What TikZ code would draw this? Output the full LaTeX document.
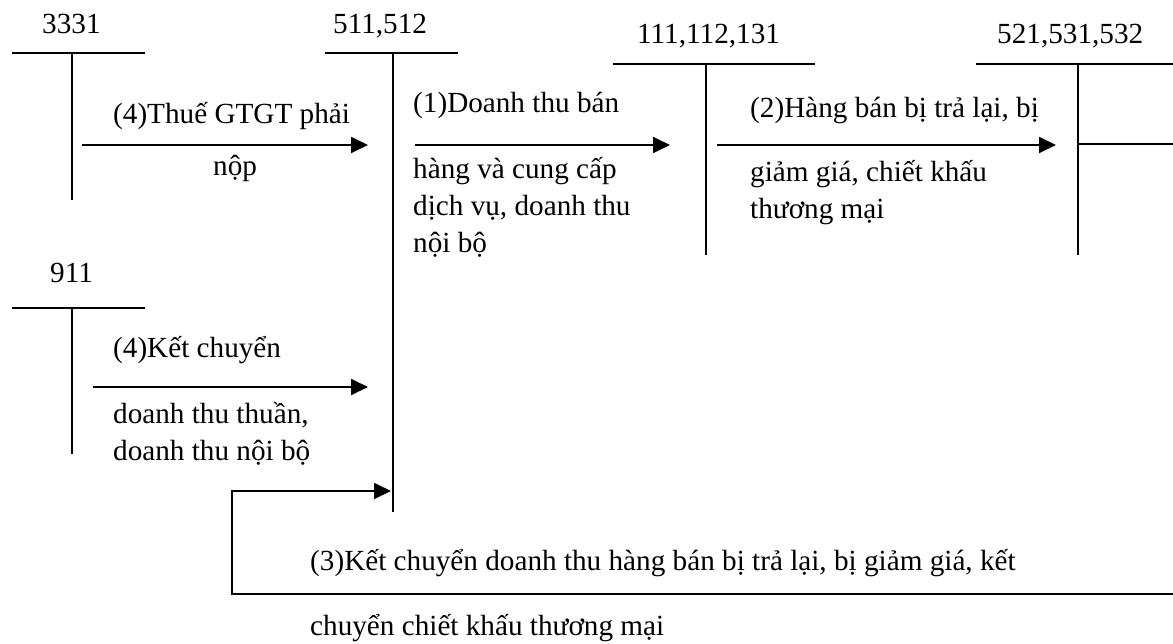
\documentclass[tikz,border=0pt]{standalone}
\usepackage{fontspec}
\setmainfont{Liberation Serif}
\usetikzlibrary{arrows.meta}
\begin{document}
\begin{tikzpicture}[x=1pt,y=-1pt,
  rule/.style={line width=1.6pt},
  flow/.style={line width=1.8pt,-{Triangle[length=17pt,width=16pt]}},
  txt/.style={anchor=base west,inner sep=0pt,font=\fontsize{29.2}{37}\selectfont}]
\useasboundingbox (0,0) rectangle (1173,643);

% account titles
\node[txt] (t3331) at (42,33) {3331};
\node[txt] (t511) at (333,33) {511,512};
\node[txt] (t111) at (637,43) {111,112,131};
\node[txt] (t521) at (997,43) {521,531,532};
\node[txt] (t911) at (50,282) {911};

% T-accounts
\coordinate (a3331L) at (12,53);   \coordinate (a3331R) at (145,53);
\coordinate (a3331T) at (72,53);   \coordinate (a3331B) at (72,200);
\coordinate (a511L) at (325,53);   \coordinate (a511R) at (458,53);
\coordinate (a511T) at (393,53);   \coordinate (a511B) at (393,512);
\coordinate (a111L) at (613,64);   \coordinate (a111R) at (815,64);
\coordinate (a111T) at (706,64);   \coordinate (a111B) at (706,255);
\coordinate (a521L) at (976,64);   \coordinate (a521R) at (1173,64);
\coordinate (a521T) at (1078,64);  \coordinate (a521B) at (1078,255);
\coordinate (a521M) at (1078,144); \coordinate (a521E) at (1173,144);
\coordinate (a911L) at (12,308);   \coordinate (a911R) at (145,308);
\coordinate (a911T) at (72,308);   \coordinate (a911B) at (72,454);

\draw[rule] (a3331L) -- (a3331R) (a3331T) -- (a3331B);
\draw[rule] (a511L) -- (a511R) (a511T) -- (a511B);
\draw[rule] (a111L) -- (a111R) (a111T) -- (a111B);
\draw[rule] (a521L) -- (a521R) (a521T) -- (a521B) (a521M) -- (a521E);
\draw[rule] (a911L) -- (a911R) (a911T) -- (a911B);

% flows
\coordinate (f4s) at (82,145);  \coordinate (f4e) at (368,145);
\coordinate (f1s) at (415,145); \coordinate (f1e) at (670,145);
\coordinate (f2s) at (717,145); \coordinate (f2e) at (1056,145);
\coordinate (f9s) at (93,387);  \coordinate (f9e) at (368,387);
\coordinate (f3s) at (1173,594); \coordinate (f3a) at (232,594);
\coordinate (f3b) at (232,491);  \coordinate (f3e) at (391,491);

\draw[flow] (f4s) -- (f4e);
\draw[flow] (f1s) -- (f1e);
\draw[flow] (f2s) -- (f2e);
\draw[flow] (f9s) -- (f9e);
\draw[flow] (f3s) -- (f3a) -- (f3b) -- (f3e);

% labels
\node[txt] (l4a) at (113,123) {(4)Thuế GTGT phải};
\node[txt] (l4b) at (213,175) {nộp};

\node[txt] (l1a) at (413,112) {(1)Doanh thu bán};
\node[txt] (l1b) at (413,178) {hàng và cung cấp};
\node[txt] (l1c) at (413,215) {dịch vụ, doanh thu};
\node[txt] (l1d) at (413,252) {nội bộ};

\node[txt] (l2a) at (750,117) {(2)Hàng bán bị trả lại, bị};
\node[txt] (l2b) at (750,181) {giảm giá, chiết khấu};
\node[txt] (l2c) at (750,218) {thương mại};

\node[txt] (l9a) at (113,357) {(4)Kết chuyển};
\node[txt] (l9b) at (113,423) {doanh thu thuần,};
\node[txt] (l9c) at (113,460) {doanh thu nội bộ};

\node[txt] (l3a) at (310,570) {(3)Kết chuyển doanh thu hàng bán bị trả lại, bị giảm giá, kết};
\node[txt] (l3b) at (310,635) {chuyển chiết khấu thương mại};
\end{tikzpicture}
\end{document}
